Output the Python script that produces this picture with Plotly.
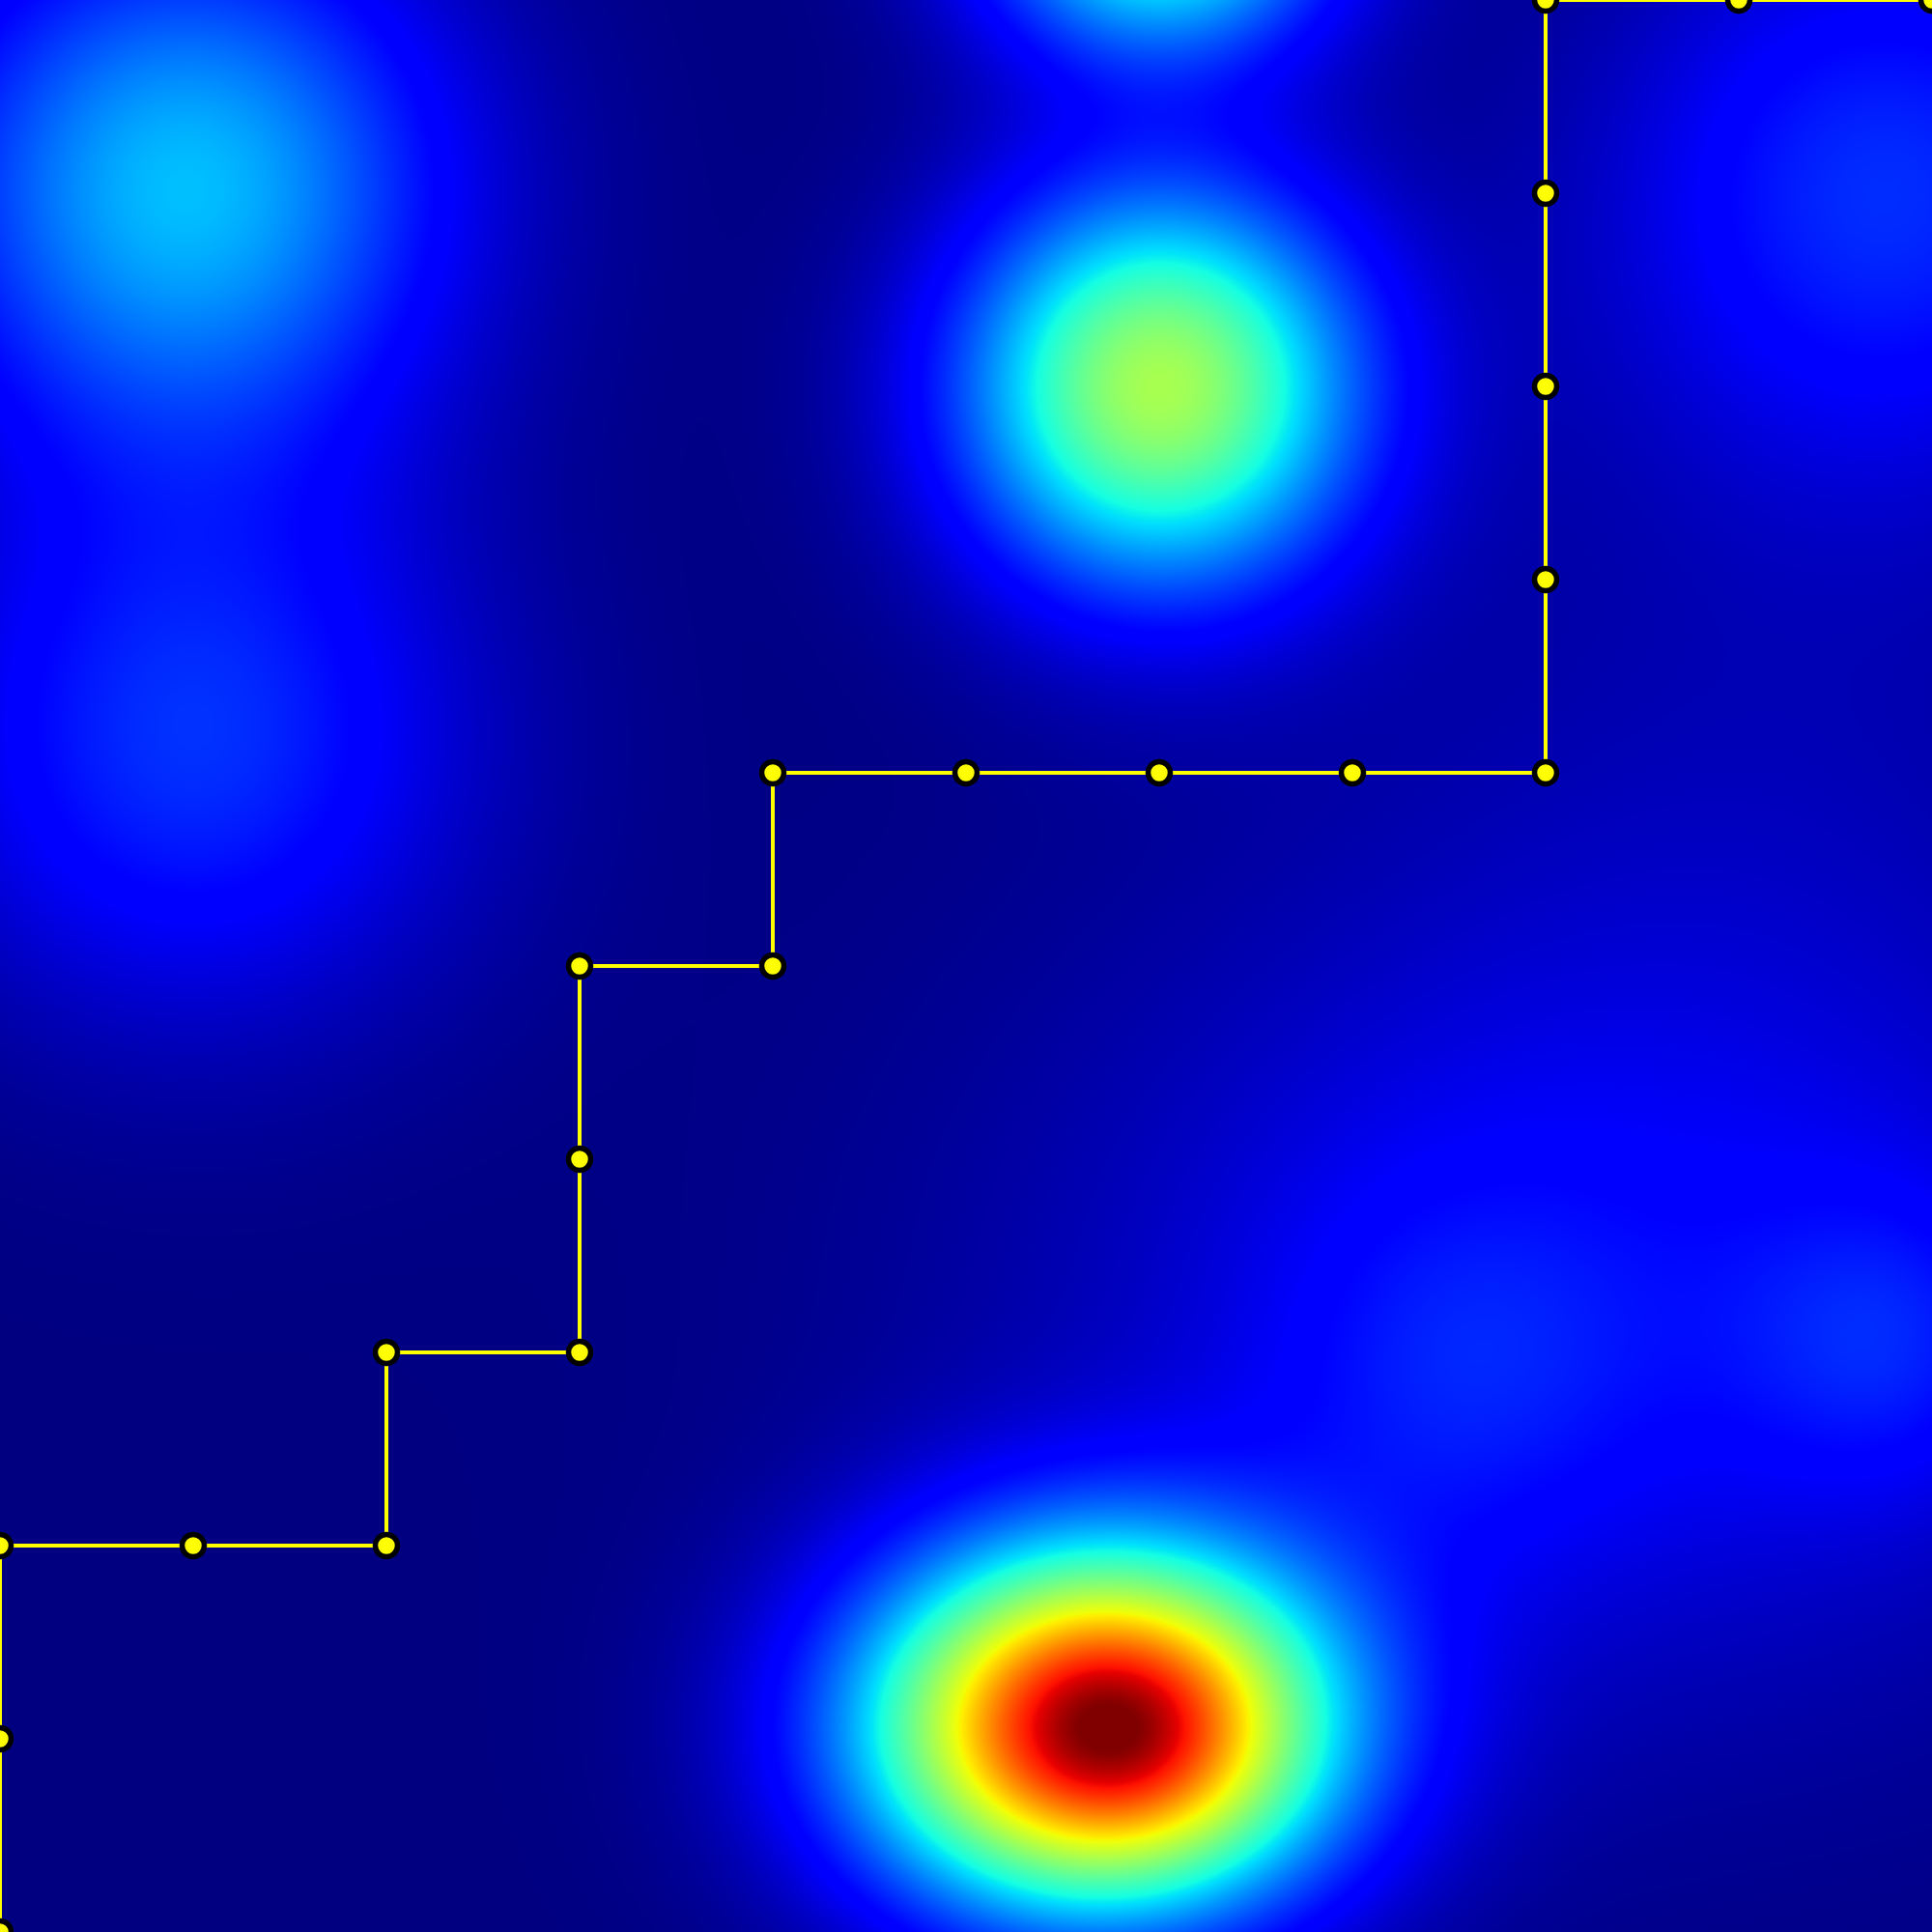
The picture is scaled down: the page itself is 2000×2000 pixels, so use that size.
import numpy as np
import plotly.graph_objects as go

# Path visited on the 11x11 grid (column, row counted from the bottom)
path_x = [0, 0, 0, 1, 2, 2, 3, 3, 3, 4, 4, 5, 6, 7, 8, 8, 8, 8, 8, 9, 10]
path_y = [0, 1, 2, 2, 2, 3, 3, 4, 5, 5, 6, 6, 6, 6, 6, 7, 8, 9, 10, 10, 10]

# Cost-field bumps (grid units)
bump_x = [5.68, 5.85, 6.0, 6.0, 0.96, 1.0, 9.76, 8.3, 7.53, 9.76, 9.2]
bump_y = [1.06, 1.03, 8.0, 10.4, 9.04, 6.17, 9.04, 3.3, 2.89, 3.05, 6.5]
bump_amp = [0.90, 0.11, 0.55, 0.42, 0.31, 0.17, 0.16, 0.11, 0.06, 0.08, 0.03]
bump_sx = [0.84, 0.45, 0.72, 0.65, 0.95, 1.0, 1.0, 2.0, 0.7, 0.55, 1.6]
bump_sy = [0.65, 0.38, 0.72, 0.50, 0.95, 1.0, 1.0, 1.5, 0.7, 0.55, 1.6]

# field sampled on a fine grid
gx = np.linspace(0, 10, 401)
gy = np.linspace(0, 10, 401)
X, Y = np.meshgrid(gx, gy)
Z = np.zeros_like(X)
for cx, cy, a, sx, sy in zip(bump_x, bump_y, bump_amp, bump_sx, bump_sy):
    Z += a * np.exp(-((X - cx) ** 2) / (2 * sx ** 2) - ((Y - cy) ** 2) / (2 * sy ** 2))

# matplotlib-style jet colour scale
jet_r = [(0, 0), (0.35, 0), (0.66, 1), (0.89, 1), (1, 0.5)]
jet_g = [(0, 0), (0.125, 0), (0.375, 1), (0.64, 1), (0.91, 0), (1, 0)]
jet_b = [(0, 0.5), (0.11, 1), (0.34, 1), (0.65, 0), (1, 0)]
stops = sorted(set([p for p, _ in jet_r + jet_g + jet_b]))


def chan(seg, t):
    return float(np.interp(t, [p for p, _ in seg], [v for _, v in seg]))


jet = [[t, "rgb(%d,%d,%d)" % (round(255 * chan(jet_r, t)), round(255 * chan(jet_g, t)),
                              round(255 * chan(jet_b, t)))] for t in stops]

fig = go.Figure()
fig.add_trace(go.Heatmap(x=gx, y=gy, z=Z, colorscale=jet, zmin=0, zmax=1,
                         showscale=False, zsmooth="best", hoverinfo="skip"))
fig.add_trace(go.Scatter(x=path_x, y=path_y, mode="lines+markers",
                         line=dict(color="#ffff00", width=4),
                         marker=dict(size=23, color="#ffff00",
                                     line=dict(color="black", width=5.5)),
                         cliponaxis=True, showlegend=False, hoverinfo="skip"))
fig.update_layout(width=2000, height=2000, margin=dict(l=0, r=0, t=0, b=0),
                  paper_bgcolor="white", plot_bgcolor="white",
                  xaxis=dict(range=[0, 10], visible=False, showgrid=False),
                  yaxis=dict(range=[0, 10], visible=False, showgrid=False))
fig.write_html("out.html", config={"displayModeBar": False},
               post_script="document.body.style.margin='0';document.body.style.overflow='hidden';")
